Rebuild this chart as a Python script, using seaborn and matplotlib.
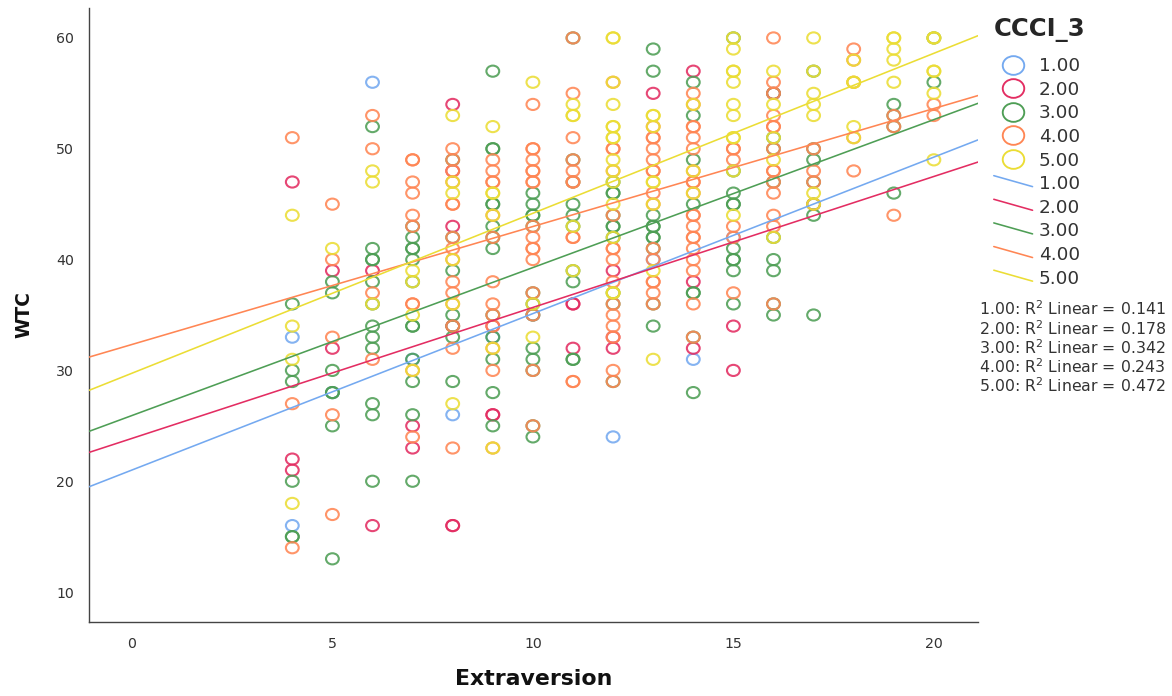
# scatter of WTC against Extraversion, split by CCCI_3, with a linear fit per group
import pandas as pd
import matplotlib
matplotlib.use('Agg')
import matplotlib.pyplot as plt
import seaborn as sns
from matplotlib.lines import Line2D
from matplotlib.legend_handler import HandlerLine2D
from matplotlib.path import Path
from matplotlib.transforms import Affine2D

# Extraversion levels, each wtc list below has one inner list per level
extraversion = [4, 5, 6, 7, 8, 9, 10, 11, 12, 13, 14, 15, 16, 17, 18, 19, 20]

wtc_1 = [[33, 16], [28], [56], [31], [26], [33], [35], [], [24], [40], [31], [42], [], [45], [], [], []]

wtc_2 = [[47, 22, 21], [39, 32], [39, 16], [25, 23], [54, 48, 43, 34, 16, 16],
         [34, 26, 26], [], [36, 36, 32], [39, 33, 32], [55], [57, 38, 32],
         [34, 30], [55], [], [], [], []]

wtc_3 = [[36, 30, 29, 20, 15, 15], [38, 37, 30, 28, 28, 25, 13],
         [52, 41, 40, 40, 38, 36, 34, 33, 32, 27, 26, 20],
         [43, 42, 41, 41, 40, 38, 34, 34, 31, 29, 26, 20],
         [49, 42, 39, 35, 34, 33, 29],
         [57, 50, 50, 45, 45, 43, 42, 41, 35, 33, 31, 28, 25],
         [46, 45, 44, 44, 43, 37, 36, 35, 32, 31, 30, 25, 24],
         [60, 49, 47, 45, 44, 43, 39, 38, 31, 31],
         [47, 46, 46, 44, 43, 43, 42, 37, 36, 29],
         [59, 57, 44, 43, 43, 42, 42, 41, 36, 34],
         [56, 53, 49, 45, 37, 37, 33, 28],
         [60, 48, 46, 45, 45, 41, 40, 40, 39, 36],
         [55, 51, 50, 47, 42, 40, 39, 36, 35],
         [57, 50, 49, 47, 45, 44, 35],
         [], [54, 53, 52, 46], [60, 56]]

wtc_4 = [[51, 27, 14], [45, 40, 33, 26, 17], [53, 50, 37, 31],
         [49, 49, 47, 46, 44, 43, 36, 36, 30, 24],
         [50, 49, 48, 47, 45, 45, 42, 41, 40, 38, 37, 36, 34, 32, 23],
         [49, 48, 47, 47, 44, 42, 38, 36, 35, 34, 32, 30, 23],
         [54, 50, 50, 49, 48, 48, 47, 47, 43, 42, 41, 41, 40, 37, 35, 30, 25],
         [60, 55, 51, 49, 48, 47, 47, 42, 42, 29, 29],
         [56, 50, 50, 48, 44, 41, 41, 40, 38, 36, 35, 34, 33, 30, 29],
         [52, 51, 51, 50, 49, 48, 48, 46, 45, 41, 40, 38, 38, 37, 36],
         [55, 54, 52, 52, 51, 50, 48, 47, 47, 46, 44, 44, 43, 42, 42, 41, 40, 39, 36, 33],
         [50, 50, 49, 43, 42, 37],
         [60, 56, 55, 53, 52, 52, 50, 48, 48, 47, 46, 44, 43, 36],
         [50, 48, 47, 45], [59, 58, 56, 51, 48], [53, 52, 44], [54, 53]]

wtc_5 = [[44, 34, 31, 18], [41], [48, 47, 36], [39, 38, 35, 30],
         [53, 47, 46, 40, 36, 27], [52, 46, 46, 44, 32, 23], [56, 36, 33],
         [54, 53, 53, 43, 39],
         [60, 60, 56, 54, 52, 52, 51, 51, 49, 48, 47, 45, 42, 37, 37],
         [53, 53, 52, 47, 47, 45, 39, 31], [54, 48, 46],
         [60, 59, 57, 57, 56, 54, 53, 51, 51, 48, 44],
         [57, 54, 51, 49, 42], [60, 57, 55, 54, 53, 46, 45],
         [58, 56, 56, 52, 51], [60, 60, 59, 58, 56], [60, 60, 57, 57, 55, 49]]

# fit lines, value at the left and right edge of the plot
line_x = [-1.07, 21.1]
line_1 = [19.5, 50.8]
line_2 = [22.6, 48.8]
line_3 = [24.5, 54.1]
line_4 = [31.2, 54.8]
line_5 = [28.2, 60.2]

groups = ['1.00', '2.00', '3.00', '4.00', '5.00']
colors = ['#74A9F0', '#E32D62', '#4E9E55', '#FF8654', '#EBDD35']
r2_values = ['0.141', '0.178', '0.342', '0.243', '0.472']

rows = []
for group, wtc in zip(groups, [wtc_1, wtc_2, wtc_3, wtc_4, wtc_5]):
    for level, values in zip(extraversion, wtc):
        for v in values:
            rows.append({'Extraversion': level, 'WTC': v, 'CCCI_3': group})
df = pd.DataFrame(rows)

lines = pd.DataFrame({
    'Extraversion': line_x * 5,
    'WTC': line_1 + line_2 + line_3 + line_4 + line_5,
    'CCCI_3': [g for g in groups for _ in line_x],
})

sns.set_style('white')
# DejaVu is wide enough to match the stretched text of the reference
plt.rcParams['font.family'] = ['DejaVu Sans']

# the rings in the reference are a little wider than tall
ring = Path.unit_circle().transformed(Affine2D().scale(1.15, 1.0))

fig = plt.figure(figsize=(11.72, 6.96), dpi=100)
ax = fig.add_axes([89 / 1172, 1 - 622 / 696, 889 / 1172, 614 / 696])

for group, color in zip(groups, colors):
    before = len(ax.collections)
    sns.scatterplot(data=df[df['CCCI_3'] == group], x='Extraversion', y='WTC',
                    color=color, marker=ring, s=85, ax=ax, legend=False, zorder=2)
    pts = ax.collections[before]
    pts.set_facecolors('none')
    pts.set_edgecolors(color)
    pts.set_linewidths(1.5)
    pts.set_alpha(0.88)

sns.lineplot(data=lines, x='Extraversion', y='WTC', hue='CCCI_3', hue_order=groups,
             palette=colors, linewidth=1.15, ax=ax, legend=False, zorder=3)

ax.set_xlim(line_x)
ax.set_ylim(7.3, 62.7)
ax.set_xticks([0, 5, 10, 15, 20])
ax.set_yticks([10, 20, 30, 40, 50, 60])
ax.tick_params(axis='x', length=0, labelsize=10.2, labelcolor='#333333', pad=11)
ax.tick_params(axis='y', length=0, labelsize=10.2, labelcolor='#333333', pad=11)
ax.set_xlabel('Extraversion', fontsize=15.8, fontweight='bold', labelpad=13, color='#111111')
ax.set_ylabel('WTC', fontsize=13.4, fontweight='bold', labelpad=16, color='#111111')
sns.despine(ax=ax)
for side in ['left', 'bottom']:
    ax.spines[side].set_color('#444444')
    ax.spines[side].set_linewidth(1.0)


# legend lines slant downward like the SPSS ones
class SlantHandler(HandlerLine2D):
    def create_artists(self, legend, orig, xdescent, ydescent, width, height, fontsize, trans):
        line = Line2D([-xdescent, width - xdescent], [height * 1.05, height * 0.2],
                      color=orig.get_color(), linewidth=orig.get_linewidth(), transform=trans)
        return [line]


handles = []
for color in colors:
    handles.append(Line2D([], [], linestyle='none', marker=ring, markersize=15.5,
                          markerfacecolor='none', markeredgecolor=color, markeredgewidth=1.35))
slanted = []
for color in colors:
    slanted.append(Line2D([], [], color=color, linewidth=1.15))

leg = ax.legend(handles + slanted, groups + groups, title='CCCI_3', frameon=False,
                loc='upper left', bbox_to_anchor=(991 / 1172, 1 - 14 / 696),
                bbox_transform=fig.transFigure, borderaxespad=0, borderpad=0.15,
                fontsize=13.3, labelspacing=0.305, handlelength=2.1, handletextpad=0.33,
                handler_map={h: SlantHandler() for h in slanted})
leg.set_title('CCCI_3', prop={'size': 17.5, 'weight': 'bold'})
leg._legend_box.align = 'left'
leg._legend_box.sep = 11
for t in leg.get_texts():
    t.set_color('#333333')

# R2 notes under the legend
note_y = [309, 329, 348, 367, 386]
for group, r2, y in zip(groups, r2_values, note_y):
    fig.text(979 / 1172, 1 - y / 696, f'{group}: R$^2$ Linear = {r2}', fontsize=11.3,
             color='#333333', va='center', ha='left')

fig.savefig('out.png', dpi=100, facecolor='white')
